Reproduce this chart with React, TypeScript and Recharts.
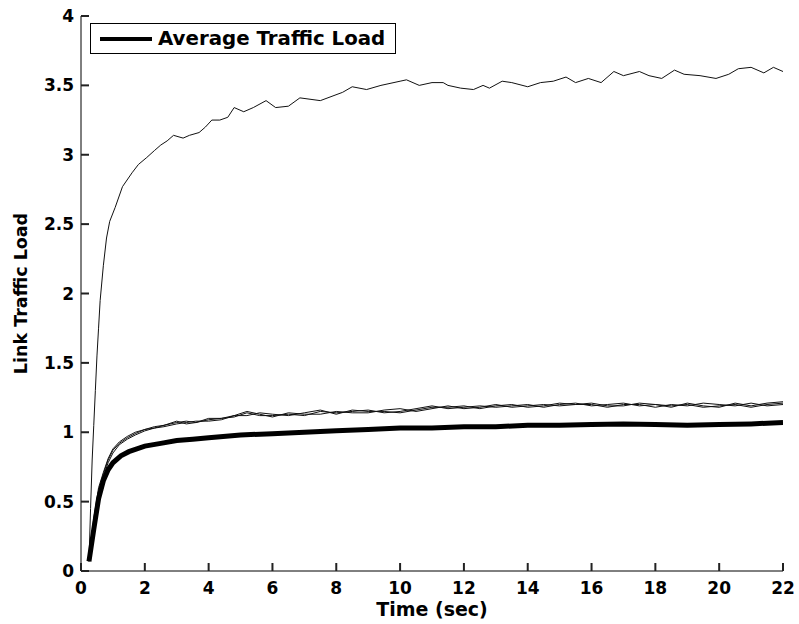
import { LineChart, Line, XAxis, YAxis, Legend } from "recharts"

const xTicks = [0, 2, 4, 6, 8, 10, 12, 14, 16, 18, 20, 22]
const yTicks = [0, 0.5, 1, 1.5, 2, 2.5, 3, 3.5, 4]

// busiest link
const peakTimes = [
  0.25, 0.3, 0.35, 0.4, 0.45, 0.5, 0.55, 0.6, 0.7, 0.8, 0.9, 1.07, 1.3, 1.6, 1.8, 2.06, 2.3, 2.5, 2.7, 2.9,
  3.2, 3.4, 3.7, 3.9, 4.1, 4.35, 4.6, 4.8, 5.1, 5.4, 5.8, 6.1, 6.5, 6.86, 7.5, 8.2, 8.5, 8.95, 9.4, 10.0,
  10.2, 10.6, 11.0, 11.35, 11.5, 11.9, 12.3, 12.6, 12.8, 13.2, 13.5, 14.0, 14.4, 14.8, 15.2, 15.5, 15.9, 16.3, 16.7, 17.0,
  17.5, 17.8, 18.2, 18.6, 18.9, 19.4, 19.9, 20.3, 20.6, 21.0, 21.4, 21.7, 22.0,
]
const peakLoad = [
  0.07, 0.45, 0.8, 1.05, 1.3, 1.55, 1.75, 1.95, 2.2, 2.4, 2.52, 2.62, 2.77, 2.87, 2.93, 2.98, 3.03, 3.07, 3.1, 3.14,
  3.12, 3.14, 3.16, 3.2, 3.25, 3.25, 3.27, 3.34, 3.31, 3.34, 3.39, 3.34, 3.35, 3.41, 3.39, 3.45, 3.49, 3.47, 3.5, 3.53,
  3.54, 3.5, 3.52, 3.52, 3.5, 3.48, 3.47, 3.5, 3.48, 3.53, 3.52, 3.49, 3.52, 3.53, 3.56, 3.52, 3.55, 3.52, 3.6, 3.57,
  3.6, 3.57, 3.55, 3.61, 3.58, 3.57, 3.55, 3.58, 3.62, 3.63, 3.59, 3.63, 3.6,
]

// three other links
const linkTimes = [
  0.25, 0.4, 0.55, 0.7, 0.85, 1.0, 1.2, 1.45, 1.7, 2.0, 2.3, 2.6, 3.0, 3.3, 3.6, 4.0, 4.4, 4.8, 5.2, 5.6,
  6.0, 6.5, 7.0, 7.5, 8.0, 8.5, 9.0, 9.5, 10.0, 10.5, 11.0, 11.5, 12.0, 12.5, 13.0, 13.5, 14.0, 14.5, 15.0, 15.5,
  16.0, 16.5, 17.0, 17.5, 18.0, 18.5, 19.0, 19.5, 20.0, 20.5, 21.0, 21.5, 22.0,
]
const linkA = [
  0.07, 0.36, 0.58, 0.7, 0.8, 0.87, 0.92, 0.96, 0.99, 1.02, 1.03, 1.05, 1.07, 1.08, 1.07, 1.09, 1.1, 1.11, 1.14, 1.12,
  1.12, 1.13, 1.12, 1.15, 1.14, 1.15, 1.16, 1.14, 1.15, 1.17, 1.19, 1.17, 1.18, 1.19, 1.18, 1.19, 1.2, 1.18, 1.2, 1.21,
  1.19, 1.2, 1.21, 1.19, 1.2, 1.19, 1.2, 1.18, 1.19, 1.2, 1.18, 1.2, 1.21,
]
const linkB = [
  0.07, 0.34, 0.55, 0.68, 0.78, 0.85, 0.91, 0.95, 0.98, 1.01, 1.03, 1.04, 1.06, 1.07, 1.08, 1.08, 1.09, 1.12, 1.15, 1.13,
  1.11, 1.14, 1.13, 1.13, 1.15, 1.14, 1.14, 1.16, 1.17, 1.15, 1.17, 1.19, 1.17, 1.18, 1.2, 1.18, 1.19, 1.2, 1.19, 1.2,
  1.2, 1.18, 1.2, 1.2, 1.18, 1.2, 1.19, 1.21, 1.2, 1.19, 1.21, 1.19, 1.2,
]
const linkC = [
  0.07, 0.38, 0.6, 0.71, 0.81, 0.88, 0.93, 0.97, 1.0, 1.02, 1.04, 1.05, 1.08, 1.06, 1.07, 1.1, 1.1, 1.12, 1.12, 1.14,
  1.13, 1.12, 1.14, 1.16, 1.13, 1.16, 1.15, 1.15, 1.14, 1.16, 1.18, 1.18, 1.19, 1.17, 1.19, 1.2, 1.18, 1.19, 1.21, 1.2,
  1.21, 1.19, 1.19, 1.21, 1.2, 1.18, 1.21, 1.19, 1.18, 1.21, 1.19, 1.21, 1.22,
]

// average over links
const avgTimes = [
  0.25, 0.4, 0.55, 0.7, 0.85, 1.0, 1.25, 1.5, 2.0, 2.5, 3.0, 3.5, 4.0, 5.0, 6.0, 7.0, 8.0, 9.0, 10.0, 11.0,
  12.0, 13.0, 14.0, 15.0, 16.0, 17.0, 18.0, 19.0, 20.0, 21.0, 22.0,
]
const avgLoad = [
  0.07, 0.3, 0.52, 0.65, 0.73, 0.78, 0.83, 0.86, 0.9, 0.92, 0.94, 0.95, 0.96, 0.98, 0.99, 1.0, 1.01, 1.02, 1.03, 1.03,
  1.04, 1.04, 1.05, 1.05, 1.055, 1.06, 1.055, 1.05, 1.055, 1.06, 1.07,
]

const zip = (ts: number[], vs: number[]) => ts.map((t, i) => ({ t, v: vs[i] }))

const font = "'DejaVu Sans', sans-serif"
const TICK = 8
const TW = 2
const GAP_X = 12
const GAP_Y = 7

// inward tick marks (matlab style) drawn together with the label
function BottomTick(props: any) {
  const { x, y, payload } = props
  return (
    <g>
      <rect x={x - TW / 2} y={y - GAP_X - TICK} width={TW} height={TICK} fill="#222" />
      <text x={x} y={y + 11} textAnchor="middle" fontFamily={font} fontWeight="bold" fontSize={17} fill="#000">
        {payload.value}
      </text>
    </g>
  )
}
function TopTick(props: any) {
  const { x, y } = props
  return <rect x={x - TW / 2} y={y + GAP_X} width={TW} height={TICK} fill="#222" />
}
function LeftTick(props: any) {
  const { x, y, payload } = props
  return (
    <g>
      <rect x={x + GAP_Y} y={y - TW / 2} width={TICK} height={TW} fill="#222" />
      <text x={x} y={y + 6} textAnchor="end" fontFamily={font} fontWeight="bold" fontSize={17} fill="#000">
        {payload.value}
      </text>
    </g>
  )
}
function RightTick(props: any) {
  const { x, y } = props
  return <rect x={x - GAP_Y - TICK} y={y - TW / 2} width={TICK} height={TW} fill="#222" />
}

function LegendBox() {
  return (
    <div
      style={{
        border: "1px solid #000",
        background: "#fff",
        width: 304,
        height: 29,
        display: "flex",
        alignItems: "center",
      }}
    >
      <div style={{ width: 52, height: 4, background: "#000", marginLeft: 9, marginRight: 6 }} />
      <span style={{ fontFamily: font, fontWeight: "bold", fontSize: 19.8, color: "#000", lineHeight: "29px", whiteSpace: "nowrap" }}>
        Average Traffic Load
      </span>
    </div>
  )
}

export default function App() {
  return (
    <div style={{ position: "absolute", left: 0, top: 0, background: "#fff" }}>
      <LineChart width={799} height={624} margin={{ top: 16, right: 16, bottom: 0, left: 21 }}>
        <XAxis
          dataKey="t"
          type="number"
          domain={[0, 22]}
          ticks={xTicks}
          allowDataOverflow
          height={53}
          stroke="#000"
          tickLine={false}
          tickSize={0}
          tickMargin={GAP_X}
          tick={<BottomTick />}
          label={{
            value: "Time (sec)",
            position: "insideBottom",
            offset: 8,
            style: { fill: "#000", fontFamily: font, fontWeight: "bold", fontSize: 19 },
          }}
        />
        <XAxis
          xAxisId="top"
          orientation="top"
          type="number"
          domain={[0, 22]}
          ticks={xTicks}
          allowDataOverflow
          height={0}
          stroke="#000"
          tickLine={false}
          tickSize={0}
          tickMargin={GAP_X}
          tick={<TopTick />}
        />
        <YAxis
          type="number"
          domain={[0, 4]}
          ticks={yTicks}
          allowDataOverflow
          width={60}
          stroke="#000"
          tickLine={false}
          tickSize={0}
          tickMargin={GAP_Y}
          tick={<LeftTick />}
          label={{
            value: "Link Traffic Load",
            angle: -90,
            position: "insideLeft",
            offset: 0,
            style: { fill: "#000", fontFamily: font, fontWeight: "bold", fontSize: 17.5, textAnchor: "middle" },
          }}
        />
        <YAxis
          yAxisId="r"
          orientation="right"
          type="number"
          domain={[0, 4]}
          ticks={yTicks}
          allowDataOverflow
          width={0}
          stroke="#000"
          tickLine={false}
          tickSize={0}
          tickMargin={GAP_Y}
          tick={<RightTick />}
        />
        <Legend
          layout="vertical"
          align="center"
          verticalAlign="middle"
          wrapperStyle={{ left: 90, top: 23, width: "auto" }}
          content={<LegendBox />}
        />
        <Line data={zip(peakTimes, peakLoad)} dataKey="v" type="linear" stroke="#111" strokeWidth={1} dot={false} legendType="none" isAnimationActive={false} />
        <Line data={zip(linkTimes, linkA)} dataKey="v" type="linear" stroke="#111" strokeWidth={1} dot={false} legendType="none" isAnimationActive={false} />
        <Line data={zip(linkTimes, linkB)} dataKey="v" type="linear" stroke="#111" strokeWidth={1} dot={false} legendType="none" isAnimationActive={false} />
        <Line data={zip(linkTimes, linkC)} dataKey="v" type="linear" stroke="#111" strokeWidth={1} dot={false} legendType="none" isAnimationActive={false} />
        <Line data={zip(avgTimes, avgLoad)} dataKey="v" name="Average Traffic Load" type="linear" stroke="#000" strokeWidth={5} dot={false} isAnimationActive={false} />
      </LineChart>
    </div>
  )
}
